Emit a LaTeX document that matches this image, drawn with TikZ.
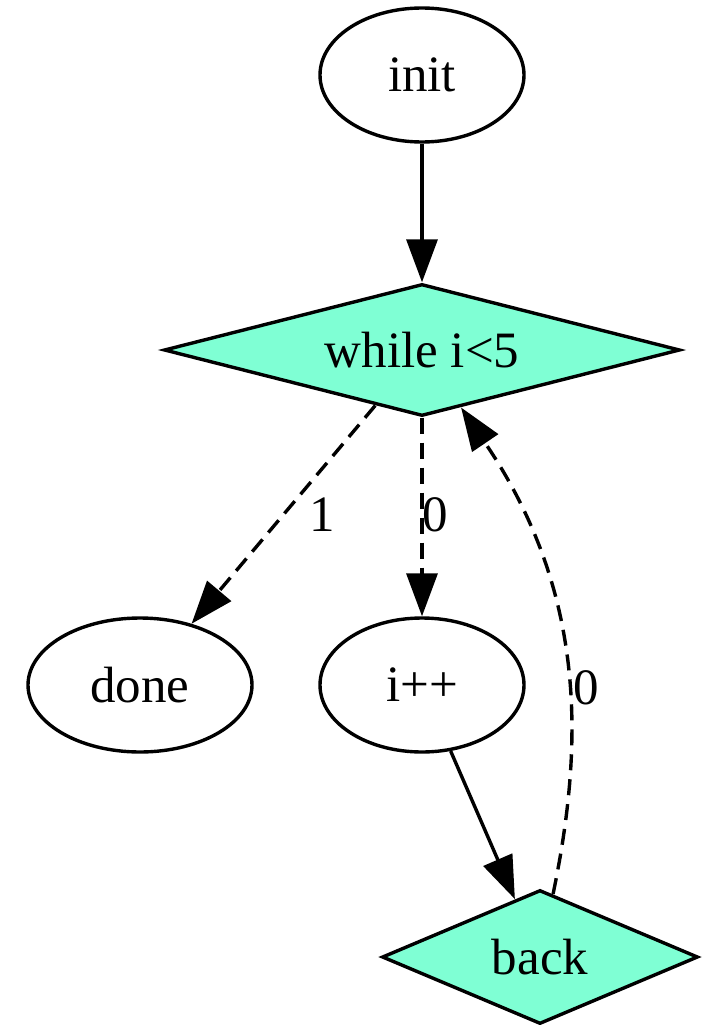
\documentclass[tikz,border=0pt]{standalone}
\usepackage{fontspec}
\setmainfont{Liberation Serif}
\usetikzlibrary{shapes.geometric,arrows.meta}
\definecolor{aqua}{HTML}{7FFFD4}
\begin{document}
\begin{tikzpicture}[x=1pt,y=-1pt,
 every node/.style={font=\fontsize{51}{60}\selectfont},
 ell/.style={draw, ellipse, line width=3.4pt, inner sep=0pt},
 dia/.style={draw, diamond, fill=aqua, line width=3.4pt, inner sep=0pt},
 arr/.style={line width=3.4pt, -{Triangle[length=43pt,width=31pt]}},
 darr/.style={arr, dash pattern=on 16pt off 9pt},
 lbl/.style={inner sep=0pt}]
\useasboundingbox (0,0) rectangle (706,1025);
\node[ell, minimum width=204pt, minimum height=134pt] (init) at (422,75) {init};
\node[dia, minimum width=516pt, minimum height=132pt, aspect=3.9] (while) at (422,350) {while i<5};
\node[ell, minimum width=224pt, minimum height=134pt] (done) at (140,685) {done};
\node[ell, minimum width=204pt, minimum height=134pt] (inc) at (422,685) {i++};
\node[dia, minimum width=316pt, minimum height=134pt, aspect=2.36] (back) at (540,957) {back};
\draw[arr] (init) -- (while);
\draw[darr] (while) -- (done);
\draw[darr] (while) -- (inc);
\draw[arr] (inc) -- (back);
\draw[darr] (back) .. controls (585,740) and (585,590) .. (while);
\node[lbl] (l1) at (322,515) {1};
\node[lbl] (l0a) at (435,515) {0};
\node[lbl] (l0b) at (586,688) {0};
\end{tikzpicture}
\end{document}
